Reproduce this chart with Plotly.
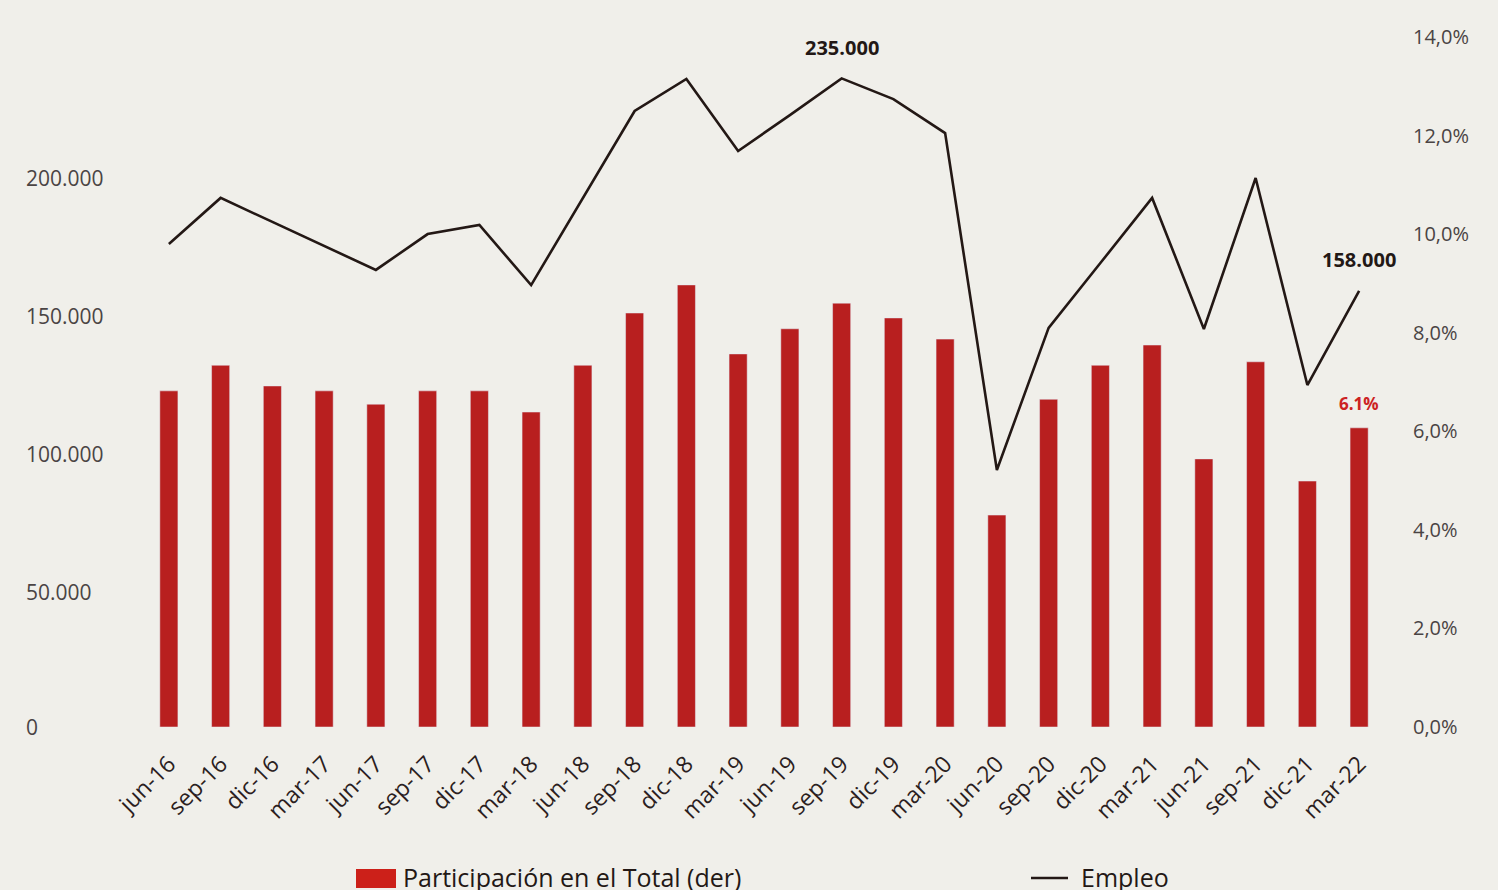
import plotly.graph_objects as go

categories = ["jun-16","sep-16","dic-16","mar-17","jun-17","sep-17","dic-17","mar-18",
              "jun-18","sep-18","dic-18","mar-19","jun-19","sep-19","dic-19","mar-20",
              "jun-20","sep-20","dic-20","mar-21","jun-21","sep-21","dic-21","mar-22"]
empleo = [175000,191700,183000,174300,165600,178600,181900,160100,
          191700,223200,234800,208700,221700,235000,227500,215200,
          93100,144600,168100,191700,144200,198900,123900,158000]
participacion = [6.82,7.34,6.92,6.82,6.55,6.82,6.82,6.39,
                 7.34,8.40,8.97,7.57,8.08,8.60,8.30,7.87,
                 4.30,6.65,7.34,7.75,5.44,7.41,4.99,6.07]
left_ticks = [0,50000,100000,150000,200000]
left_tick_labels = ["0","50.000","100.000","150.000","200.000"]

BG = "#f0efea"
RED = "#b81f1f"
LINE = "#231815"
FONT = "Open Sans"

x = list(range(len(categories)))
fig = go.Figure()
fig.add_trace(go.Bar(x=x, y=participacion, yaxis="y2", marker_color=RED, width=0.35,
                     name="Participación en el Total (der)", showlegend=False))
fig.add_trace(go.Scatter(x=x, y=empleo, yaxis="y", mode="lines",
                         line=dict(color=LINE, width=2.6), name="Empleo", showlegend=False))

annotations = []
for v, lab in zip(left_ticks, left_tick_labels):
    annotations.append(dict(x=(24-143)/1242, xref="paper", y=v, yref="y", text=lab,
                            showarrow=False, xanchor="left", yanchor="middle", yshift=-3 if v else 0,
                            font=dict(family=FONT, size=21, color="#4a4444")))
annotations += [
    dict(x=13, y=235000, xref="x", yref="y", text="<b>235.000</b>", showarrow=False,
         yshift=31, font=dict(family=FONT, size=20, color=LINE)),
    dict(x=23, y=158000, xref="x", yref="y", text="<b>158.000</b>", showarrow=False,
         yshift=31, font=dict(family=FONT, size=20, color=LINE)),
    dict(x=23, y=participacion[-1], xref="x", yref="y2", text="<b>6.1%</b>", showarrow=False,
         yshift=24, font=dict(family=FONT, size=17, color="#cc2222")),
    dict(x=(401-143)/1242, y=(727-877)/690, xref="paper", yref="paper",
         text="Participación en el Total (der)", showarrow=False, xanchor="left",
         yanchor="middle", font=dict(family=FONT, size=25, color=LINE)),
    dict(x=(1079-143)/1242, y=(727-877)/690, xref="paper", yref="paper",
         text="Empleo", showarrow=False, xanchor="left",
         yanchor="middle", font=dict(family=FONT, size=25, color=LINE)),
]
shapes = [
    dict(type="rect", xref="paper", yref="paper", x0=(356-143)/1242, x1=(396-143)/1242,
         y0=(727-869)/690, y1=(727-888)/690, fillcolor="#cc2019", line=dict(width=0)),
    dict(type="line", xref="paper", yref="paper", x0=(1031-143)/1242, x1=(1068-143)/1242,
         y0=(727-878)/690, y1=(727-878)/690, line=dict(color=LINE, width=2.6)),
]

fig.update_layout(
    width=1498, height=890,
    margin=dict(l=143, r=113, t=37, b=163),
    paper_bgcolor=BG, plot_bgcolor=BG,
    separators=",.",
    font=dict(family=FONT, color=LINE),
    xaxis=dict(tickmode="array", tickvals=x, ticktext=categories, tickangle=-45,
               range=[-0.5, 23.5], showgrid=False, zeroline=False, showline=False,
               tickfont=dict(family=FONT, size=23, color="#2a2020"), ticks="",
               ticklabelstandoff=18),
    yaxis=dict(range=[0, 250000], showgrid=False, zeroline=False, showticklabels=False,
               tickvals=left_ticks),
    yaxis2=dict(range=[0, 14], overlaying="y", side="right", dtick=2, tickformat=".1f",
                ticksuffix="%", showgrid=False, zeroline=False,
                tickfont=dict(family=FONT, size=20, color="#4a4444"),
                ticklabelstandoff=27),
    annotations=annotations, shapes=shapes, bargap=0.6,
)
fig.write_html("out.html", config={"displayModeBar": False},
               post_script="document.body.style.margin='0';document.body.style.overflow='hidden';")
